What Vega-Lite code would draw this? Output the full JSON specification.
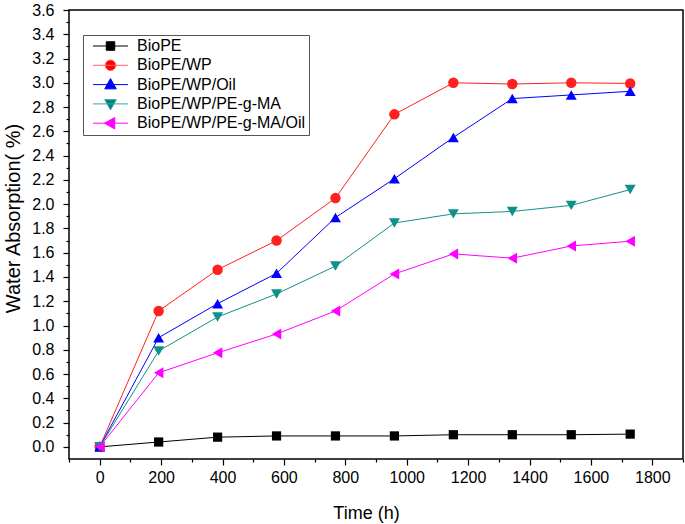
{
  "$schema": "https://vega.github.io/schema/vega-lite/v6.json",
  "autosize": "none",
  "width": 614,
  "height": 449,
  "padding": {"left": 69, "top": 10, "right": 2, "bottom": 65},
  "background": "white",
  "config": {
    "font": "Liberation Sans",
    "view": {"stroke": "black", "strokeWidth": 1.5},
    "axis": {"grid": false, "domain": false, "tickColor": "black", "labelColor": "black", "titleColor": "black", "labelFontSize": 16, "titleFontSize": 18, "titleFontWeight": "normal", "labelFont": "Liberation Sans", "titleFont": "Liberation Sans", "tickWidth": 1.2},
    "legend": {"symbolOpacity": 1, "symbolSize": 100, "symbolStrokeWidth": 1,
      "labelFontSize": 16, "labelFont": "Liberation Sans", "labelColor": "black", "labelOffset": 35, "padding": 3, "rowPadding": 3.3,
      "strokeColor": "#555555", "fillColor": "white", "labelLimit": 300}
  },
  "data": {"values": [
    {"t": 0, "s": "BioPE", "w": 0.0},
    {"t": 192, "s": "BioPE", "w": 0.04},
    {"t": 384, "s": "BioPE", "w": 0.08},
    {"t": 576, "s": "BioPE", "w": 0.09},
    {"t": 768, "s": "BioPE", "w": 0.09},
    {"t": 960, "s": "BioPE", "w": 0.09},
    {"t": 1152, "s": "BioPE", "w": 0.1},
    {"t": 1344, "s": "BioPE", "w": 0.1},
    {"t": 1536, "s": "BioPE", "w": 0.1},
    {"t": 1728, "s": "BioPE", "w": 0.105},
    {"t": 0, "s": "BioPE/WP", "w": 0.0},
    {"t": 192, "s": "BioPE/WP", "w": 1.12},
    {"t": 384, "s": "BioPE/WP", "w": 1.46},
    {"t": 576, "s": "BioPE/WP", "w": 1.7},
    {"t": 768, "s": "BioPE/WP", "w": 2.05},
    {"t": 960, "s": "BioPE/WP", "w": 2.74},
    {"t": 1152, "s": "BioPE/WP", "w": 3.0},
    {"t": 1344, "s": "BioPE/WP", "w": 2.99},
    {"t": 1536, "s": "BioPE/WP", "w": 3.0},
    {"t": 1728, "s": "BioPE/WP", "w": 2.995},
    {"t": 0, "s": "BioPE/WP/Oil", "w": 0.0},
    {"t": 192, "s": "BioPE/WP/Oil", "w": 0.9},
    {"t": 384, "s": "BioPE/WP/Oil", "w": 1.18},
    {"t": 576, "s": "BioPE/WP/Oil", "w": 1.43},
    {"t": 768, "s": "BioPE/WP/Oil", "w": 1.89},
    {"t": 960, "s": "BioPE/WP/Oil", "w": 2.21},
    {"t": 1152, "s": "BioPE/WP/Oil", "w": 2.55},
    {"t": 1344, "s": "BioPE/WP/Oil", "w": 2.87},
    {"t": 1536, "s": "BioPE/WP/Oil", "w": 2.9},
    {"t": 1728, "s": "BioPE/WP/Oil", "w": 2.93},
    {"t": 0, "s": "BioPE/WP/PE-g-MA", "w": 0.0},
    {"t": 192, "s": "BioPE/WP/PE-g-MA", "w": 0.79},
    {"t": 384, "s": "BioPE/WP/PE-g-MA", "w": 1.07},
    {"t": 576, "s": "BioPE/WP/PE-g-MA", "w": 1.26},
    {"t": 768, "s": "BioPE/WP/PE-g-MA", "w": 1.49},
    {"t": 960, "s": "BioPE/WP/PE-g-MA", "w": 1.845},
    {"t": 1152, "s": "BioPE/WP/PE-g-MA", "w": 1.92},
    {"t": 1344, "s": "BioPE/WP/PE-g-MA", "w": 1.94},
    {"t": 1536, "s": "BioPE/WP/PE-g-MA", "w": 1.99},
    {"t": 1728, "s": "BioPE/WP/PE-g-MA", "w": 2.12},
    {"t": 0, "s": "BioPE/WP/PE-g-MA/Oil", "w": 0.0},
    {"t": 192, "s": "BioPE/WP/PE-g-MA/Oil", "w": 0.61},
    {"t": 384, "s": "BioPE/WP/PE-g-MA/Oil", "w": 0.775},
    {"t": 576, "s": "BioPE/WP/PE-g-MA/Oil", "w": 0.93},
    {"t": 768, "s": "BioPE/WP/PE-g-MA/Oil", "w": 1.12},
    {"t": 960, "s": "BioPE/WP/PE-g-MA/Oil", "w": 1.425},
    {"t": 1152, "s": "BioPE/WP/PE-g-MA/Oil", "w": 1.59},
    {"t": 1344, "s": "BioPE/WP/PE-g-MA/Oil", "w": 1.555},
    {"t": 1536, "s": "BioPE/WP/PE-g-MA/Oil", "w": 1.655},
    {"t": 1728, "s": "BioPE/WP/PE-g-MA/Oil", "w": 1.695}
  ]},
  "encoding": {
    "x": {"field": "t", "type": "quantitative", "scale": {"domain": [-100, 1900], "nice": false, "zero": false},
      "axis": {"title": "Time (h)", "values": [-100, 0, 100, 200, 300, 400, 500, 600, 700, 800, 900, 1000, 1100, 1200, 1300, 1400, 1500, 1600, 1700, 1800, 1900],
        "labelExpr": "datum.value % 200 == 0 ? '' + datum.value : ''",
        "tickSize": {"condition": {"test": "datum.value % 200 != 0", "value": 3}, "value": 6},
        "labelPadding": 4, "titleX": 297, "titleY": 54, "titleBaseline": "middle"}},
    "y": {"field": "w", "type": "quantitative", "scale": {"domain": [-0.1, 3.6], "nice": false, "zero": false},
      "axis": {"title": "Water Absorption(  %)", "titleFontSize": 20, "values": [0, 0.1, 0.2, 0.3, 0.4, 0.5, 0.6, 0.7, 0.8, 0.9, 1.0, 1.1, 1.2, 1.3, 1.4, 1.5, 1.6, 1.7, 1.8, 1.9, 2.0, 2.1, 2.2, 2.3, 2.4, 2.5, 2.6, 2.7, 2.8, 2.9, 3.0, 3.1, 3.2, 3.3, 3.4, 3.5, 3.6],
        "labelExpr": "round(datum.value * 10) % 2 == 0 ? format(datum.value, '.1f') : ''",
        "tickSize": {"condition": {"test": "round(datum.value * 10) % 2 != 0", "value": 3}, "value": 6},
        "labelPadding": 9, "titleX": -56, "titleY": 208, "titleBaseline": "middle", "titleAlign": "center"}}
  },
  "layer": [
    {
      "mark": {"type": "point", "filled": true, "size": 0},
      "encoding": {
        "fill": {"field": "s", "type": "nominal",
          "legend": {"title": null, "orient": "none", "legendX": 14, "legendY": 25},
          "scale": {"domain": ["BioPE", "BioPE/WP", "BioPE/WP/Oil", "BioPE/WP/PE-g-MA", "BioPE/WP/PE-g-MA/Oil"],
            "range": ["#000000", "#ff0000", "#0000ff", "#008080", "#ff00ff"]}},
        "stroke": {"field": "s", "type": "nominal",
          "legend": {"title": null, "orient": "none", "legendX": 14, "legendY": 25},
          "scale": {"domain": ["BioPE", "BioPE/WP", "BioPE/WP/Oil", "BioPE/WP/PE-g-MA", "BioPE/WP/PE-g-MA/Oil"],
            "range": ["#000000", "#ff6060", "#0000ff", "#30a8a0", "#ff00ff"]}},
        "shape": {"field": "s", "type": "nominal",
          "legend": {"title": null, "orient": "none", "legendX": 14, "legendY": 25},
          "scale": {"domain": ["BioPE", "BioPE/WP", "BioPE/WP/Oil", "BioPE/WP/PE-g-MA", "BioPE/WP/PE-g-MA/Oil"],
            "range": [
              "M-0.2,0H6.8M2.45,-0.85H4.15V0.85H2.45Z",
              "M-0.2,0H6.8M4.35,0A1.05,1.05,0,1,1,2.25,0A1.05,1.05,0,1,1,4.35,0Z",
              "M-0.2,0H6.8M3.3,-1.2L4.45,0.85H2.15Z",
              "M-0.2,0H6.8M3.3,1.2L4.45,-0.85H2.15Z",
              "M-0.2,0H6.8M2.1,0L4.15,-1.15V1.15Z"
            ]}}
      }
    },
    {
      "encoding": {
        "color": {"field": "s", "type": "nominal", "legend": null,
          "scale": {"domain": ["BioPE", "BioPE/WP", "BioPE/WP/Oil", "BioPE/WP/PE-g-MA", "BioPE/WP/PE-g-MA/Oil"],
            "range": ["#000000", "#ff2020", "#0000ff", "#10908a", "#ff00ff"]}}
      },
      "layer": [
        {"mark": {"type": "line", "strokeWidth": 1}, "encoding": {}},
        {"transform": [{"filter": "datum.s == 'BioPE'"}], "mark": {"type": "point", "shape": "square", "filled": true, "opacity": 1, "size": 85, "strokeWidth": 0}, "encoding": {}},
        {"transform": [{"filter": "datum.s == 'BioPE/WP'"}], "mark": {"type": "point", "shape": "circle", "filled": true, "opacity": 1, "size": 110, "strokeWidth": 0}, "encoding": {}},
        {"transform": [{"filter": "datum.s == 'BioPE/WP/Oil'"}], "mark": {"type": "point", "shape": "triangle-up", "filled": true, "opacity": 1, "size": 120, "strokeWidth": 0}, "encoding": {}},
        {"transform": [{"filter": "datum.s == 'BioPE/WP/PE-g-MA'"}], "mark": {"type": "point", "shape": "triangle-down", "filled": true, "opacity": 1, "size": 120, "strokeWidth": 0}, "encoding": {}},
        {"transform": [{"filter": "datum.s == 'BioPE/WP/PE-g-MA/Oil'"}], "mark": {"type": "point", "shape": "triangle-left", "filled": true, "opacity": 1, "size": 120, "strokeWidth": 0}, "encoding": {}}
      ]
    }
  ]
}
